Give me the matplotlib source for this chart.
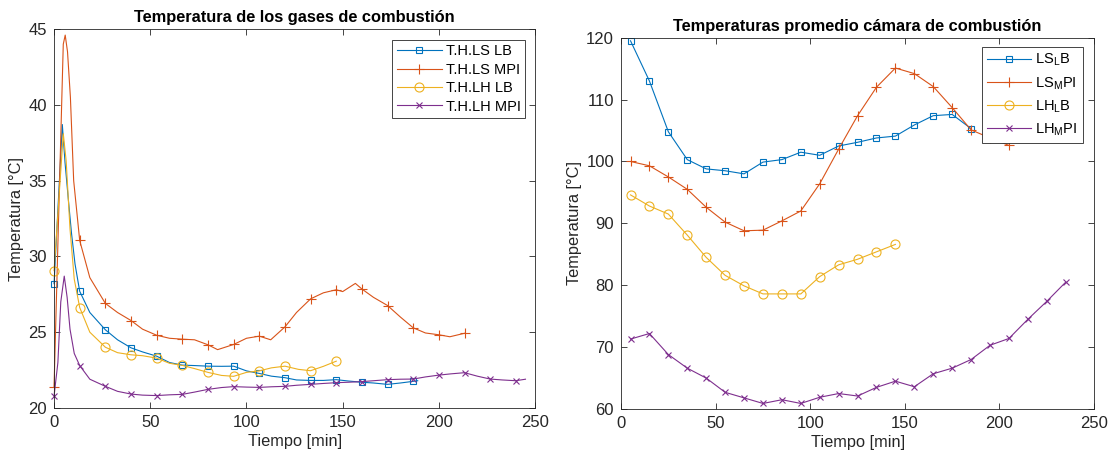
import numpy as np
import matplotlib
matplotlib.use("Agg")
import matplotlib.pyplot as plt

plt.rcParams["font.family"] = ["Liberation Sans", "DejaVu Sans"]
plt.rcParams["mathtext.fontset"] = "custom"
plt.rcParams["mathtext.rm"] = "Liberation Sans"

# ---- left panel: gas temperatures (dense reading, markers every 13.33 min)
t_ls_lb = [0, 4.3, 5.7, 7.4, 9.1, 10.9, 13.33, 18.6, 26.67, 33, 40, 46, 53.33, 60, 66.67, 73, 80,
           87, 93.33, 100, 106.67, 113, 120, 126, 133.33, 140, 146.67, 153, 160, 166, 173.33, 180,
           186.67, 189]
T_ls_lb = [28.2, 38.7, 36.2, 33.8, 31.5, 29.5, 27.7, 26.3, 25.16, 24.5, 23.97, 23.7, 23.42, 23.0,
           22.83, 22.8, 22.76, 22.75, 22.76, 22.45, 22.28, 22.1, 22.0, 21.85, 21.82, 21.82, 21.87,
           21.78, 21.7, 21.65, 21.56, 21.65, 21.76, 21.8]

t_ls_mpi = [0, 4.8, 5.8, 7.0, 8.5, 10.2, 13.33, 18.6, 26.67, 33, 40, 46, 53.33, 60, 66.67, 73, 80,
            85, 93.33, 100, 106.67, 112.6, 120, 126, 133.33, 140, 146.67, 150, 156.6, 160, 166,
            173.33, 180, 186.67, 193, 200, 205.7, 213.33]
T_ls_mpi = [21.38, 44.0, 44.6, 43.5, 40.5, 35.0, 31.05, 28.6, 26.9, 26.3, 25.77, 25.2, 24.8, 24.6,
            24.54, 24.5, 24.17, 23.85, 24.19, 24.6, 24.74, 24.5, 25.35, 26.3, 27.2, 27.6, 27.8,
            27.68, 28.22, 27.85, 27.3, 26.76, 26.0, 25.29, 24.95, 24.83, 24.7, 24.93]

t_lh_lb = [0, 4.8, 6.3, 8.3, 10.5, 13.33, 18.6, 26.67, 33, 40, 46, 53.33, 60, 66.67, 73, 80, 87,
           93.33, 100, 106.67, 113, 120, 127, 133.33, 140, 146.67]
T_lh_lb = [29.06, 38.1, 36.3, 31.8, 28.5, 26.63, 25.0, 24.01, 23.65, 23.51, 23.45, 23.29, 22.95,
           22.81, 22.6, 22.35, 22.15, 22.09, 22.35, 22.45, 22.65, 22.76, 22.55, 22.46, 22.75, 23.09]

t_lh_mpi = [0, 2, 3.5, 5.3, 6.8, 8.3, 10.5, 13.33, 18.6, 26.67, 33, 40, 46, 53.33, 60, 66.67, 73,
            80, 87, 93.33, 100, 106.67, 113, 120, 126, 133.33, 140, 146.67, 153, 160, 166, 173.33,
            180, 186.67, 193, 200, 206, 213.33, 220, 226.67, 233, 240, 245]
T_lh_mpi = [20.79, 23.0, 27.0, 28.7, 27.3, 25.2, 23.6, 22.8, 21.9, 21.43, 21.1, 20.92, 20.85, 20.82,
            20.87, 20.9, 21.05, 21.23, 21.35, 21.41, 21.38, 21.36, 21.4, 21.43, 21.5, 21.56, 21.62,
            21.67, 21.7, 21.74, 21.8, 21.87, 21.9, 21.91, 22.05, 22.17, 22.25, 22.33, 22.1, 21.91,
            21.85, 21.8, 21.9]

left_labels = ["T.H.LS LB", "T.H.LS MPI", "T.H.LH LB", "T.H.LH MPI"]

# ---- right panel: chamber averages, every 10 min
t_cam = [5, 15, 25, 35, 45, 55, 65, 75, 85, 95, 105, 115, 125, 135, 145, 155, 165, 175, 185, 195,
         205, 215, 225, 235]
ls_lb = [119.5, 113, 104.8, 100.3, 98.8, 98.5, 98, 99.9, 100.3, 101.5, 101, 102.5, 103.1, 103.8,
         104.1, 105.9, 107.4, 107.6, 105.3]
ls_mpi = [100, 99.3, 97.5, 95.5, 92.6, 90.2, 88.8, 88.9, 90.4, 92, 96.4, 102.0, 107.4, 112.0, 115.1,
          114.2, 112.1, 108.7, 105.1, 103.8, 102.6]
lh_lb = [94.6, 92.8, 91.5, 88.1, 84.5, 81.6, 79.9, 78.6, 78.6, 78.6, 81.4, 83.3, 84.2, 85.4, 86.6]
lh_mpi = [71.3, 72.2, 68.8, 66.6, 65.0, 62.7, 61.8, 60.9, 61.5, 60.9, 61.9, 62.5, 62.1, 63.5, 64.5,
          63.6, 65.7, 66.6, 68.0, 70.3, 71.4, 74.5, 77.4, 80.5]

right_labels = [r"LS$_\mathregular{L}$B", r"LS$_\mathregular{M}$PI",
                r"LH$_\mathregular{L}$B", r"LH$_\mathregular{M}$PI"]

colors = ["#0072BD", "#D95319", "#EDB120", "#7E2F8E"]
markers = ["s", "+", "o", "x"]
msizes = [5, 7, 6.5, 5]
axcol = "#262626"


def style_axes(ax, xlim, ylim, yticks):
    ax.set_xlim(*xlim)
    ax.set_ylim(*ylim)
    ax.set_xticks(np.arange(0, 251, 50))
    ax.set_yticks(yticks)
    ax.tick_params(direction="in", top=True, right=True, length=4, width=0.6,
                   labelsize=12, colors=axcol, pad=5)
    for s in ax.spines.values():
        s.set_linewidth(0.6)
        s.set_color(axcol)
    ax.set_xlabel("Tiempo [min]", fontsize=11.8, color=axcol, labelpad=3)
    ax.set_ylabel("Temperatura [°C]", fontsize=11.8, color=axcol, labelpad=3)


def mark_idx(ts):
    return [i for i, t in enumerate(ts) if abs(t * 3 / 40 - round(t * 3 / 40)) < 0.01]


def frame(leg):
    leg.get_frame().set_edgecolor(axcol)
    leg.get_frame().set_linewidth(0.6)


fig = plt.figure(figsize=(11.12, 4.57), dpi=100)
ax1 = fig.add_axes([0.0486, 0.1072, 0.4326, 0.8293])
ax2 = fig.add_axes([0.5585, 0.105, 0.4254, 0.8125])

left_series = [(t_ls_lb, T_ls_lb), (t_ls_mpi, T_ls_mpi), (t_lh_lb, T_lh_lb), (t_lh_mpi, T_lh_mpi)]
for (tx, ty), c, m, ms, lab in zip(left_series, colors, markers, msizes, left_labels):
    ax1.plot(tx, ty, color=c, lw=0.8, marker=m, ms=ms, mfc="none", mew=0.8,
             markevery=mark_idx(tx), label=lab, clip_on=False)
style_axes(ax1, (0, 250), (20, 45), np.arange(20, 46, 5))
ax1.set_title("Temperatura de los gases de combustión", fontsize=11.8, fontweight="bold", pad=5)
leg1 = ax1.legend(loc="upper right", bbox_to_anchor=(0.98, 0.971), fontsize=10.5,
                  handlelength=3.1, labelspacing=0.3, borderpad=0.3, handletextpad=0.3,
                  borderaxespad=0, fancybox=False, framealpha=1)
frame(leg1)

right_series = [ls_lb, ls_mpi, lh_lb, lh_mpi]
for vals, c, m, ms, lab in zip(right_series, colors, markers, msizes, right_labels):
    ax2.plot(t_cam[:len(vals)], vals, color=c, lw=0.8, marker=m, ms=ms, mfc="none", mew=0.8,
             label=lab)
style_axes(ax2, (0, 250), (60, 120), np.arange(60, 121, 10))
ax2.set_title("Temperaturas promedio cámara de combustión", fontsize=11.8, fontweight="bold", pad=5)
leg2 = ax2.legend(loc="upper right", bbox_to_anchor=(0.976, 0.976), fontsize=10.5,
                  handlelength=3.0, labelspacing=0.45, borderpad=0.35, handletextpad=0.3,
                  borderaxespad=0, fancybox=False, framealpha=1)
frame(leg2)

fig.savefig("out.png", dpi=100)
